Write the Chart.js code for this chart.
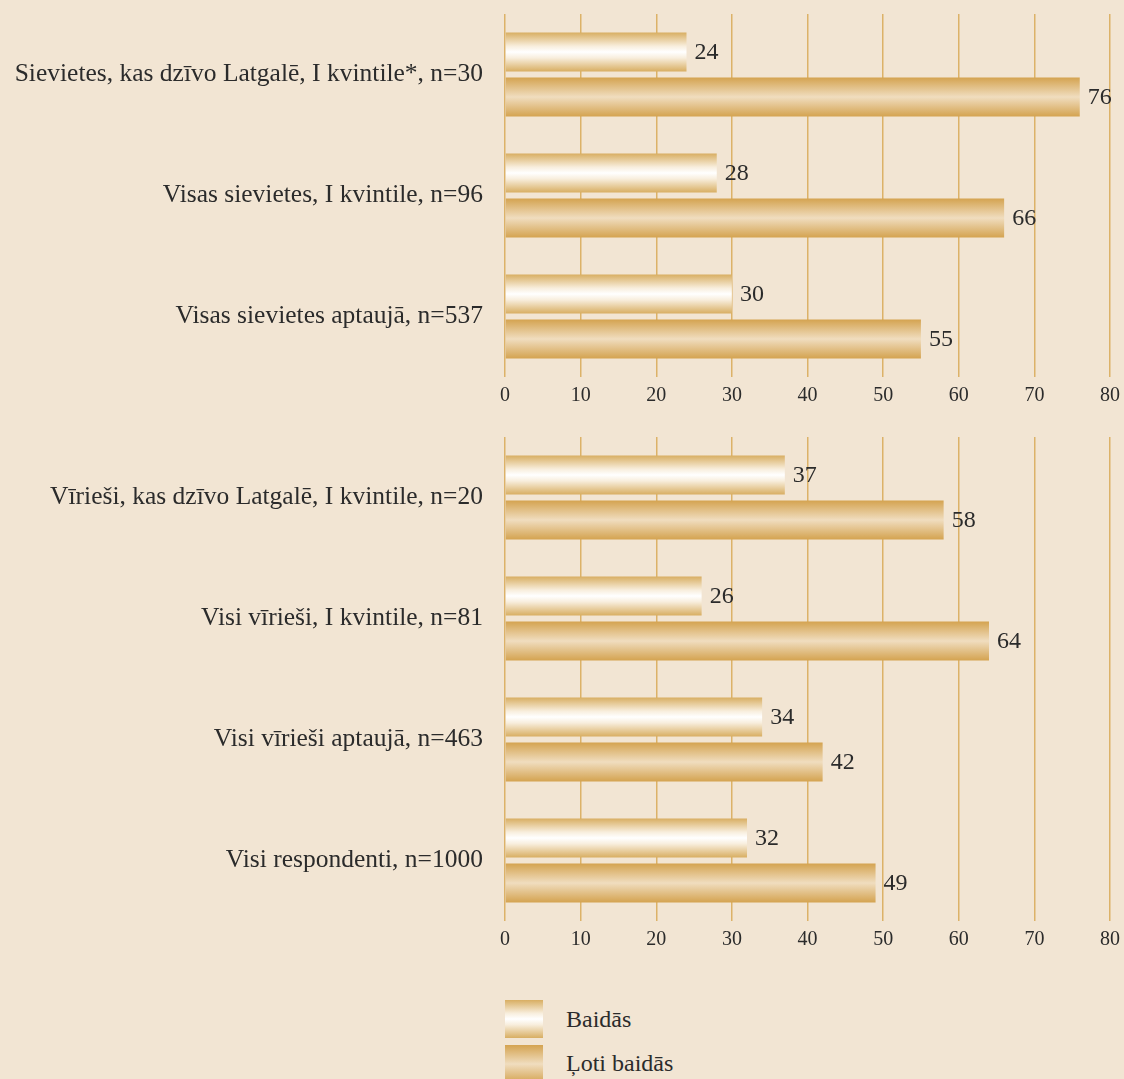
<!DOCTYPE html>
<html>
<head>
<meta charset="utf-8">
<script src="https://cdn.jsdelivr.net/npm/chart.js@4.4.1/dist/chart.umd.min.js"></script>
<style>
  body { margin: 0; background: #F2E5D3; width: 1124px; height: 1079px; overflow: hidden; position: relative; font-family: "Liberation Serif", serif; }
  .box { position: absolute; left: 0; width: 1124px; }
  #top-box { top: 0; height: 410px; }
  #bottom-box { top: 423px; height: 531px; }
  .legend-item { position: absolute; left: 505px; width: 38px; height: 38px; }
  .legend-text { position: absolute; left: 566px; font-size: 24px; color: #2b2b2b; line-height: 28px; }
</style>
</head>
<body>
<div class="box" id="top-box"><canvas id="top-chart"></canvas></div>
<div class="box" id="bottom-box"><canvas id="bottom-chart"></canvas></div>

<div class="legend-item" style="top:1000px;background:linear-gradient(#D8AE62,#F8EEDD 35%,#fff 50%,#F8EEDD 65%,#D8AE62)"></div>
<div class="legend-text" style="top:1005px">Baidās</div>
<div class="legend-item" style="top:1045px;background:linear-gradient(#D4A350,#F0DDBF 50%,#D4A350)"></div>
<div class="legend-text" style="top:1049px">Ļoti baidās</div>

<script>
// Data
const seriesNames = ['Baidās', 'Ļoti baidās'];

const womenLabels = [
  'Sievietes, kas dzīvo Latgalē, I kvintile*, n=30',
  'Visas sievietes, I kvintile, n=96',
  'Visas sievietes aptaujā, n=537'
];
const womenAfraid = [24, 28, 30];
const womenVeryAfraid = [76, 66, 55];

const menLabels = [
  'Vīrieši, kas dzīvo Latgalē, I kvintile, n=20',
  'Visi vīrieši, I kvintile, n=81',
  'Visi vīrieši aptaujā, n=463',
  'Visi respondenti, n=1000'
];
const menAfraid = [37, 26, 34, 32];
const menVeryAfraid = [58, 64, 42, 49];

const xTicks = [0, 10, 20, 30, 40, 50, 60, 70, 80];

const FONT = '"Liberation Serif", serif';
const TEXT_COLOR = '#2b2b2b';
const GRID_COLOR = '#DCB268';

// Gradient fill per bar, built from the bar's own position
const barGradientPlugin = {
  id: 'barGradient',
  beforeDatasetsDraw(chart) {
    const ctx = chart.ctx;
    chart.data.datasets.forEach((ds, i) => {
      const meta = chart.getDatasetMeta(i);
      meta.data.forEach(bar => {
        const top = bar.y - bar.height / 2;
        const bottom = bar.y + bar.height / 2;
        const g = ctx.createLinearGradient(0, top, 0, bottom);
        if (i === 0) {
          g.addColorStop(0, '#D8AE62');
          g.addColorStop(0.35, '#F8EEDD');
          g.addColorStop(0.5, '#FFFFFF');
          g.addColorStop(0.65, '#F8EEDD');
          g.addColorStop(1, '#D8AE62');
        } else {
          g.addColorStop(0, '#D4A350');
          g.addColorStop(0.5, '#F0DDBF');
          g.addColorStop(1, '#D4A350');
        }
        bar.options = Object.assign({}, bar.options, { backgroundColor: g });
      });
    });
  }
};

// Value labels at the end of each bar
const valueLabelPlugin = {
  id: 'valueLabels',
  afterDatasetsDraw(chart) {
    const ctx = chart.ctx;
    ctx.save();
    ctx.font = '24px ' + FONT;
    ctx.fillStyle = TEXT_COLOR;
    ctx.textAlign = 'left';
    ctx.textBaseline = 'middle';
    chart.data.datasets.forEach((ds, i) => {
      const meta = chart.getDatasetMeta(i);
      meta.data.forEach((bar, j) => {
        ctx.fillText(ds.data[j], bar.x + 8, bar.y + 1);
      });
    });
    ctx.restore();
  }
};

const makeChart = (id, labels, afraid, veryAfraid) => {
  return new Chart(document.getElementById(id), {
    type: 'bar',
    data: {
      labels: labels,
      datasets: [
        { label: seriesNames[0], data: afraid, backgroundColor: () => '#F8EEDD' },
        { label: seriesNames[1], data: veryAfraid, backgroundColor: () => '#E6C68C' }
      ]
    },
    options: {
      indexAxis: 'y',
      responsive: true,
      maintainAspectRatio: false,
      animation: false,
      categoryPercentage: 0.744,
      barPercentage: 0.867,
      layout: { padding: { top: 14, right: 14, left: 0, bottom: 0 } },
      plugins: {
        legend: { display: false },
        tooltip: { enabled: false }
      },
      scales: {
        x: {
          min: 0,
          max: 80,
          afterBuildTicks: (scale) => { scale.ticks = xTicks.map(v => ({ value: v })); },
          afterFit: (scale) => {
            scale.height = 33;
            scale.paddingLeft = 0;
            scale.paddingRight = 0;
          },
          grid: { color: GRID_COLOR, lineWidth: 1.5, drawTicks: false },
          border: { display: false },
          ticks: { padding: 7, color: TEXT_COLOR, font: { family: FONT, size: 20 } }
        },
        y: {
          afterFit: (scale) => {
            scale.width = 505;
            scale.paddingTop = 0;
            scale.paddingBottom = 0;
          },
          grid: { display: false },
          border: { display: false },
          ticks: { padding: 14, color: TEXT_COLOR, font: { family: FONT, size: 25.5 } }
        }
      }
    },
    plugins: [barGradientPlugin, valueLabelPlugin]
  });
};

makeChart('top-chart', womenLabels, womenAfraid, womenVeryAfraid);
makeChart('bottom-chart', menLabels, menAfraid, menVeryAfraid);
</script>
</body>
</html>
